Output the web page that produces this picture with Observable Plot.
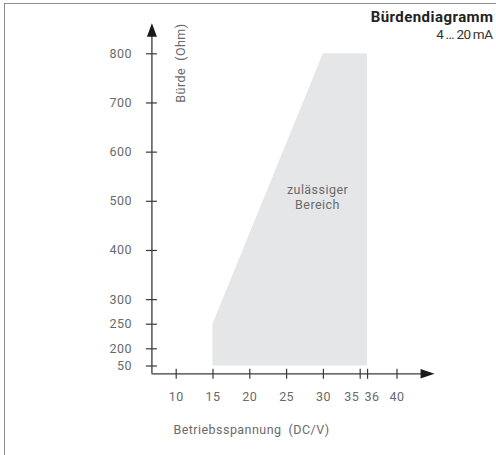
<!DOCTYPE html>
<html><head><meta charset="utf-8">
<script src="https://cdn.jsdelivr.net/npm/d3@7"></script>
<script src="https://cdn.jsdelivr.net/npm/@observablehq/plot@0.6"></script>
<style>
body{margin:0;background:#fff;}
#wrap{position:relative;width:496px;height:455px;overflow:hidden;}
#border{position:absolute;left:4px;top:3px;width:520px;height:480px;border-top:1.5px solid #8c8c8c;border-left:1.5px solid #8c8c8c;box-sizing:border-box;}
#wrap svg{position:absolute;left:0;top:0;letter-spacing:0.45px;}
</style></head>
<body><div id="wrap"><div id="border"></div></div>
<script>
// ---- data ----
const xTicks = [10, 15, 20, 25, 30, 35, 36, 40];
const yTicks = [50, 200, 250, 300, 400, 500, 600, 700, 800];
const areaX = [15, 30, 36];          // supply voltage (DC/V)
const areaTop = [250, 800, 800];     // max load (Ohm)
const areaBottom = 50;               // min load (Ohm)
const xAxisFrom = 6.7, xAxisTo = 45.1;
const yAxisFrom = 0, yAxisTo = 862;
const xLabel = "Betriebsspannung  (DC/V)";
const yLabel = "Bürde  (Ohm)";
const areaLabel = "zulässiger\nBereich";
const title = "Bürdendiagramm";
const subtitle = "4\u2009…\u200920\u2009mA";

const areaData = areaX.map((x, i) => ({x, top: areaTop[i], bottom: areaBottom}));

const FONT = "Roboto, 'Noto Sans', sans-serif";
const TXT = "#6a6a6a";
const AX = "#3a3a3a";

const vTick = {draw(c){ c.moveTo(0,-5); c.lineTo(0,5); }};
const hTick = {draw(c){ c.moveTo(-6,0); c.lineTo(5,0); }};
const arrowUp = {draw(c){ c.moveTo(0,0); c.lineTo(5,13.5); c.lineTo(-5,13.5); c.closePath(); }};
const arrowRight = {draw(c){ c.moveTo(0,0); c.lineTo(-14,4.7); c.lineTo(-14,-4.7); c.closePath(); }};

const common = {fontFamily: FONT, fontSize: 12.5, fill: TXT};

const chart = Plot.plot({
  width: 496,
  height: 455,
  marginTop: 0, marginRight: 0, marginBottom: 0, marginLeft: 0,
  style: {fontFamily: FONT, background: "transparent", overflow: "visible"},
  x: {type: "linear", domain: [10, 40], range: [175.7, 396.5], axis: null},
  y: {type: "linear", domain: [0, 50, 200, 800], range: [373.3, 365.5, 348.3, 53.3], axis: null},
  marks: [
    Plot.areaY(areaData, {x: "x", y1: "bottom", y2: "top", fill: "#e5e6e8", curve: "linear"}),
    Plot.ruleY([yAxisFrom], {x1: xAxisFrom, x2: xAxisTo - 1.5, stroke: AX, strokeWidth: 1.3}),
    Plot.ruleX([xAxisFrom], {y1: yAxisFrom, y2: yAxisTo - 20, stroke: AX, strokeWidth: 1.3}),
    Plot.dot(xTicks, {x: d => d, y: yAxisFrom, symbol: vTick, stroke: AX, strokeWidth: 1.2, fill: "none"}),
    Plot.dot(yTicks, {x: xAxisFrom, y: d => d, symbol: hTick, stroke: AX, strokeWidth: 1.2, fill: "none"}),
    Plot.dot([0], {x: xAxisFrom, y: yAxisTo, symbol: arrowUp, fill: "#1a1a1a", stroke: "none"}),
    Plot.dot([0], {x: xAxisTo, y: yAxisFrom, symbol: arrowRight, fill: "#1a1a1a", stroke: "none"}),
    // x tick labels
    Plot.text(xTicks.filter(d => d !== 35 && d !== 36), {x: d => d, y: yAxisFrom, text: d => String(d), dy: 23.5, lineAnchor: "middle", textAnchor: "middle", ...common}),
    Plot.text(xTicks.filter(d => d === 35), {x: d => d, y: yAxisFrom, text: d => String(d), dx: -1, dy: 23.5, lineAnchor: "middle", textAnchor: "end", ...common}),
    Plot.text(xTicks.filter(d => d === 36), {x: d => d, y: yAxisFrom, text: d => String(d), dx: -3, dy: 23.5, lineAnchor: "middle", textAnchor: "start", ...common}),
    // y tick labels
    Plot.text(yTicks, {x: xAxisFrom, y: d => d, text: d => String(d), dx: -20, lineAnchor: "middle", textAnchor: "end", ...common}),
    // area label
    Plot.text([areaLabel], {x: 29.2, y: 510, text: d => d, lineAnchor: "middle", textAnchor: "middle", lineHeight: 1.2, ...common}),
    // axis labels
    Plot.text([xLabel], {frameAnchor: "top-left", dx: 173, dy: 429, text: d => d, textAnchor: "start", lineAnchor: "middle", ...common}),
    Plot.text([yLabel], {frameAnchor: "top-left", dx: 180, dy: 23, rotate: -90, text: d => d, textAnchor: "end", lineAnchor: "middle", ...common}),
    // title
    Plot.text([title], {frameAnchor: "top-right", dx: -3, dy: 17, text: d => d, textAnchor: "end", lineAnchor: "middle", fontFamily: FONT, fontSize: 15, fontWeight: "bold", fill: "#222"}),
    Plot.text([subtitle], {frameAnchor: "top-right", dx: -4, dy: 34, text: d => d, textAnchor: "end", lineAnchor: "middle", fontFamily: FONT, fontSize: 13.5, fill: "#333"})
  ]
});
d3.select(chart).selectAll("text")
  .filter(function(){ return this.textContent === subtitle; })
  .style("letter-spacing", "-0.5px");
document.getElementById("wrap").appendChild(chart);
</script>
</body></html>
